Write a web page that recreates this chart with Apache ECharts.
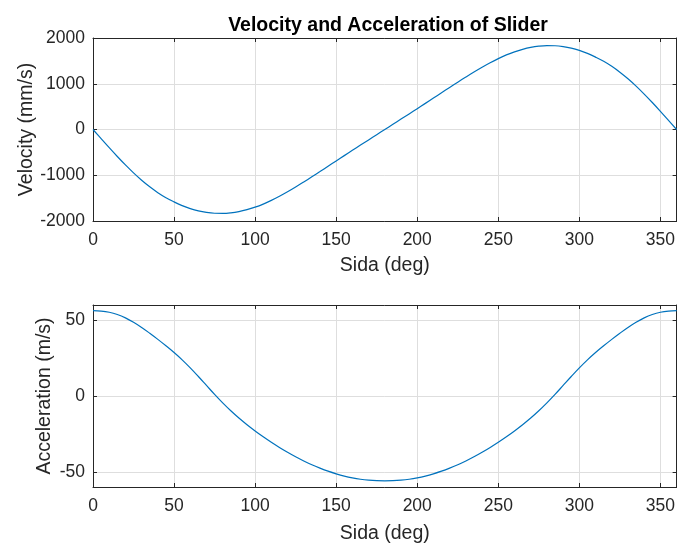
<!DOCTYPE html>
<html>
<head>
<meta charset="utf-8">
<script src="https://cdn.jsdelivr.net/npm/echarts@6/dist/echarts.min.js"></script>
<style>
  html, body { margin: 0; padding: 0; background: #fff; }
  #main { width: 678px; height: 545px; }
</style>
</head>
<body>
<div id="main"></div>
<script>
// crank angle (deg)
var angles = [0, 5, 10, 15, 20, 25, 30, 35, 40, 45, 50, 55, 60, 65, 70, 75, 80, 85, 90,
  95, 100, 105, 110, 115, 120, 125, 130, 135, 140, 145, 150, 155, 160, 165, 170, 175, 180,
  185, 190, 195, 200, 205, 210, 215, 220, 225, 230, 235, 240, 245, 250, 255, 260, 265, 270,
  275, 280, 285, 290, 295, 300, 305, 310, 315, 320, 325, 330, 335, 340, 345, 350, 355, 360];

// slider velocity (mm/s)
var velocity = [0, -200, -398, -590, -774, -948, -1108, -1252, -1380, -1490, -1582, -1664,
  -1730, -1780, -1813, -1831, -1834, -1822, -1795, -1753, -1698, -1630, -1550, -1460, -1362,
  -1257, -1147, -1034, -919, -803, -687, -571, -456, -341, -227, -113, 0,
  113, 227, 341, 456, 571, 687, 803, 919, 1034, 1147, 1257, 1362, 1460, 1550, 1630, 1698,
  1753, 1795, 1822, 1834, 1831, 1813, 1780, 1730, 1664, 1582, 1490, 1380, 1252, 1108, 948,
  774, 590, 398, 200, 0];

// slider acceleration (m/s)
var acceleration = [56.3, 56.0, 55.2, 53.7, 51.5, 48.6, 45.2, 41.4, 37.35, 33.1, 28.65, 23.85,
  18.55, 12.85, 6.95, 1.05, -4.55, -9.75, -14.55, -18.95, -23.05, -26.9, -30.5, -33.9, -37.1,
  -40.1, -42.85, -45.35, -47.55, -49.55, -51.3, -52.8, -54.0, -54.9, -55.5, -55.85, -55.95,
  -55.85, -55.5, -54.9, -54.0, -52.8, -51.3, -49.55, -47.55, -45.35, -42.85, -40.1, -37.1,
  -33.9, -30.5, -26.9, -23.05, -18.95, -14.55, -9.75, -4.55, 1.05, 6.95, 12.85, 18.55, 23.85,
  28.65, 33.1, 37.35, 41.4, 45.2, 48.6, 51.5, 53.7, 55.2, 56.0, 56.3];

var xTicks = [0, 50, 100, 150, 200, 250, 300, 350];
var velTicks = [-2000, -1000, 0, 1000, 2000];
var accTicks = [-50, 0, 50];

function pairs(ys) {
  return angles.map(function (a, i) { return [a, ys[i]]; });
}

var font = "'Liberation Sans', Arial, Helvetica, sans-serif";
var ink = '#262626';
var gridColor = '#dedede';
var blue = '#0072BD';
var tickSize = 17.5;
var nameSize = 19.5;

function plain(v) { return String(v); }

function xAxisOf(gridIndex, main, gap) {
  return {
    type: 'value', gridIndex: gridIndex, min: 0, max: 360,
    position: main ? 'bottom' : 'top',
    name: main ? 'Sida (deg)' : '',
    nameLocation: 'middle', nameGap: gap, nameMoveOverlap: false,
    nameTextStyle: { fontFamily: font, fontSize: nameSize, color: ink },
    axisLine: { show: true, onZero: false, lineStyle: { color: ink, width: 1 } },
    axisTick: { show: true, inside: true, length: 4, customValues: xTicks, lineStyle: { color: ink } },
    axisLabel: { show: main, customValues: xTicks, formatter: plain, margin: 10,
      fontFamily: font, fontSize: tickSize, color: ink },
    splitLine: { show: main, lineStyle: { color: gridColor, width: 1 } }
  };
}

function yAxisOf(gridIndex, main, lo, hi, ticks, title, gap) {
  return {
    type: 'value', gridIndex: gridIndex, min: lo, max: hi,
    position: main ? 'left' : 'right',
    name: main ? title : '',
    nameLocation: 'middle', nameGap: gap, nameMoveOverlap: false,
    nameTextStyle: { fontFamily: font, fontSize: nameSize, color: ink },
    axisLine: { show: true, onZero: false, lineStyle: { color: ink, width: 1 } },
    axisTick: { show: true, inside: true, length: 4, customValues: ticks, lineStyle: { color: ink } },
    axisLabel: { show: main, customValues: ticks, formatter: plain, margin: 8,
      fontFamily: font, fontSize: tickSize, color: ink },
    splitLine: { show: main, lineStyle: { color: gridColor, width: 1 } }
  };
}

var chart = echarts.init(document.getElementById('main'), null, { renderer: 'canvas' });
chart.setOption({
  animation: false,
  backgroundColor: '#ffffff',
  title: {
    text: 'Velocity and Acceleration of Slider',
    left: 383, top: 11, textAlign: 'center',
    textStyle: { fontFamily: font, fontSize: 19.5, fontWeight: 'bold', color: '#000' }
  },
  grid: [
    { left: 93, right: 1, top: 38, height: 183 },
    { left: 93, right: 1, top: 305, height: 184 }
  ],
  xAxis: [xAxisOf(0, true, 35), xAxisOf(0, false, 0), xAxisOf(1, true, 37), xAxisOf(1, false, 0)],
  yAxis: [
    yAxisOf(0, true, -2000, 2000, velTicks, 'Velocity (mm/s)', 56),
    yAxisOf(0, false, -2000, 2000, velTicks, '', 0),
    yAxisOf(1, true, -60, 60, accTicks, 'Acceleration (m/s)', 38),
    yAxisOf(1, false, -60, 60, accTicks, '', 0)
  ],
  series: [
    {
      type: 'line', xAxisIndex: 0, yAxisIndex: 0, data: pairs(velocity),
      showSymbol: false, smooth: 0.4, lineStyle: { color: blue, width: 1.2 }
    },
    {
      type: 'line', xAxisIndex: 2, yAxisIndex: 2, data: pairs(acceleration),
      showSymbol: false, smooth: 0.4, lineStyle: { color: blue, width: 1.2 }
    }
  ]
});
</script>
</body>
</html>
